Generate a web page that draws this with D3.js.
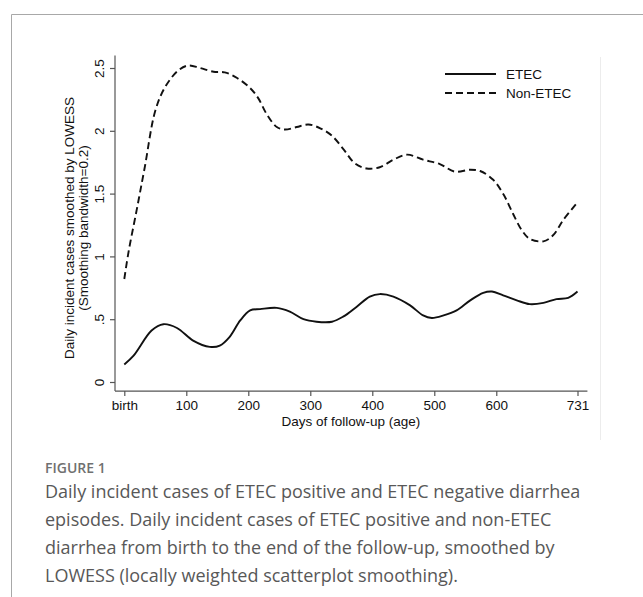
<!DOCTYPE html>
<html>
<head>
<meta charset="utf-8">
<script src="https://cdn.jsdelivr.net/npm/d3@7"></script>
<style>
  body { margin: 0; background: #fff; }
  svg { display: block; }
</style>
</head>
<body>
<div id="chart"></div>
<script>
// Data (days of follow-up, LOWESS smoothed daily cases)
var etecDays = [0, 15, 44, 63, 85, 111, 138, 154, 170, 187, 203, 219, 246, 267, 289, 310, 335, 353, 375, 396, 412, 434, 461, 482, 496, 515, 536, 558, 579, 593, 611, 633, 654, 676, 697, 716, 731];
var etecValues = [0.14, 0.21, 0.41, 0.46, 0.43, 0.33, 0.28, 0.29, 0.36, 0.49, 0.57, 0.58, 0.59, 0.56, 0.50, 0.48, 0.48, 0.52, 0.60, 0.68, 0.70, 0.68, 0.61, 0.53, 0.51, 0.53, 0.57, 0.65, 0.71, 0.72, 0.69, 0.65, 0.62, 0.63, 0.66, 0.67, 0.72];

var nonEtecDays = [0, 7, 20, 33, 50, 66, 87, 103, 122, 144, 162, 182, 203, 216, 230, 246, 259, 278, 297, 316, 335, 354, 372, 391, 412, 434, 456, 482, 509, 533, 558, 574, 595, 612, 627, 641, 654, 676, 692, 708, 731];
var nonEtecValues = [0.82, 1.04, 1.37, 1.71, 2.16, 2.35, 2.48, 2.52, 2.50, 2.47, 2.465, 2.42, 2.34, 2.26, 2.13, 2.03, 2.01, 2.03, 2.05, 2.02, 1.96, 1.85, 1.74, 1.70, 1.71, 1.77, 1.81, 1.77, 1.735, 1.675, 1.69, 1.68, 1.61, 1.49, 1.34, 1.21, 1.14, 1.12, 1.17, 1.29, 1.43];

var xTicks = [0, 100, 200, 300, 400, 500, 600, 731];
var xTickLabels = ["birth", "100", "200", "300", "400", "500", "600", "731"];
var yTicks = [0, 0.5, 1, 1.5, 2, 2.5];
var yTickLabels = ["0", ".5", "1", "1.5", "2", "2.5"];

var seriesNames = ["ETEC", "Non-ETEC"];

var captionLabel = "FIGURE 1";
var captionLines = [
  "Daily incident cases of ETEC positive and ETEC negative diarrhea",
  "episodes. Daily incident cases of ETEC positive and non-ETEC",
  "diarrhea from birth to the end of the follow-up, smoothed by",
  "LOWESS (locally weighted scatterplot smoothing)."
];

// SVG area
var svgWidth = 643;
var svgHeight = 597;

var svg = d3.select("#chart")
  .append("svg")
  .attr("width", svgWidth)
  .attr("height", svgHeight);

// page frame (figure box)
svg.append("path")
  .attr("d", "M11.5,597 L11.5,14.5 L643,14.5")
  .attr("fill", "none")
  .attr("stroke", "#a8a8a8")
  .attr("stroke-width", 1);

// faint right edge of the chart image
svg.append("line")
  .attr("x1", 600.5).attr("x2", 600.5)
  .attr("y1", 57).attr("y2", 440)
  .attr("stroke", "#ececec");

// scales
var xScale = d3.scaleLinear()
  .domain([0, 731])
  .range([124.3, 577.5]);

var yScale = d3.scaleLinear()
  .domain([0, 2.5])
  .range([382, 68]);

var font = "'Liberation Sans', Arial, sans-serif";

// axis lines (Stata style, extended past the data range)
var xAxisY = yScale(-0.072);
var yAxisX = xScale(-15);

var bottomAxis = d3.axisBottom(xScale)
  .tickValues(xTicks)
  .tickFormat((d, i) => xTickLabels[i])
  .tickSize(5)
  .tickSizeOuter(0)
  .tickPadding(4);

var leftAxis = d3.axisLeft(yScale)
  .tickValues(yTicks)
  .tickFormat((d, i) => yTickLabels[i])
  .tickSize(5)
  .tickSizeOuter(0);

var xAxisGroup = svg.append("g")
  .attr("transform", `translate(0, ${xAxisY})`)
  .call(bottomAxis);

var yAxisGroup = svg.append("g")
  .attr("transform", `translate(${yAxisX}, 0)`)
  .call(leftAxis);

[xAxisGroup, yAxisGroup].forEach(function(g) {
  g.select(".domain").remove();
  g.selectAll(".tick line").attr("stroke", "#555").attr("stroke-width", 1.2);
  g.selectAll(".tick text")
    .attr("fill", "#111")
    .style("font-family", font)
    .style("font-size", "13.5px");
});

// rotated y tick labels
yAxisGroup.selectAll(".tick text")
  .attr("x", null)
  .attr("dy", null)
  .attr("text-anchor", "middle")
  .attr("transform", "translate(-11.5, 0) rotate(-90)");

svg.append("line")
  .attr("x1", yAxisX).attr("x2", xScale(747))
  .attr("y1", xAxisY).attr("y2", xAxisY)
  .attr("stroke", "#555")
  .attr("stroke-width", 1.2);

svg.append("line")
  .attr("x1", yAxisX).attr("x2", yAxisX)
  .attr("y1", xAxisY).attr("y2", yScale(2.6))
  .attr("stroke", "#555")
  .attr("stroke-width", 1.2);

// axis titles
svg.append("text")
  .attr("x", (xScale(0) + xScale(731)) / 2)
  .attr("y", 426)
  .attr("text-anchor", "middle")
  .style("font-family", font)
  .style("font-size", "13.5px")
  .attr("fill", "#111")
  .text("Days of follow-up (age)");

var yTitle = svg.append("text")
  .attr("transform", `translate(0, ${(yScale(0) + yScale(2.5)) / 2 + 3}) rotate(-90)`)
  .attr("text-anchor", "middle")
  .style("font-family", font)
  .style("font-size", "13.5px")
  .attr("fill", "#111");

yTitle.append("tspan")
  .attr("x", 0)
  .attr("y", 74)
  .text("Daily incident cases smoothed by LOWESS");

yTitle.append("tspan")
  .attr("x", 0)
  .attr("y", 88)
  .text("(Smoothing bandwidth=0.2)");

// lines
var lineGen = d3.line()
  .x(d => xScale(d[0]))
  .y(d => yScale(d[1]))
  .curve(d3.curveCatmullRom.alpha(0.5));

var etecData = etecDays.map((d, i) => [d, etecValues[i]]);
var nonEtecData = nonEtecDays.map((d, i) => [d, nonEtecValues[i]]);

svg.append("path")
  .datum(etecData)
  .attr("d", lineGen)
  .attr("fill", "none")
  .attr("stroke", "#111")
  .attr("stroke-width", 1.9);

svg.append("path")
  .datum(nonEtecData)
  .attr("d", lineGen)
  .attr("fill", "none")
  .attr("stroke", "#111")
  .attr("stroke-width", 1.9)
  .attr("stroke-dasharray", "7,4");

// legend
var legend = svg.append("g");

seriesNames.forEach(function(name, i) {
  var ly = 74 + i * 19;
  legend.append("line")
    .attr("x1", 445).attr("x2", 496)
    .attr("y1", ly).attr("y2", ly)
    .attr("stroke", "#111")
    .attr("stroke-width", 1.9)
    .attr("stroke-dasharray", i == 1 ? "7,4" : null);
  legend.append("text")
    .attr("x", 506)
    .attr("y", ly + 5)
    .style("font-family", font)
    .style("font-size", "13.5px")
    .attr("fill", "#111")
    .text(name);
});

// caption
svg.append("text")
  .attr("x", 45)
  .attr("y", 473)
  .style("font-family", "'Open Sans', 'Noto Sans', sans-serif")
  .style("font-size", "14px")
  .style("font-weight", 600)
  .attr("fill", "#707070")
  .text(captionLabel);

svg.selectAll(".caption")
  .data(captionLines)
  .enter()
  .append("text")
  .attr("class", "caption")
  .attr("x", 45)
  .attr("y", (d, i) => 498 + i * 28)
  .style("font-family", "'Open Sans', 'Noto Sans', sans-serif")
  .style("font-size", "18px")
  .attr("fill", "#585858")
  .text(d => d);
</script>
</body>
</html>
